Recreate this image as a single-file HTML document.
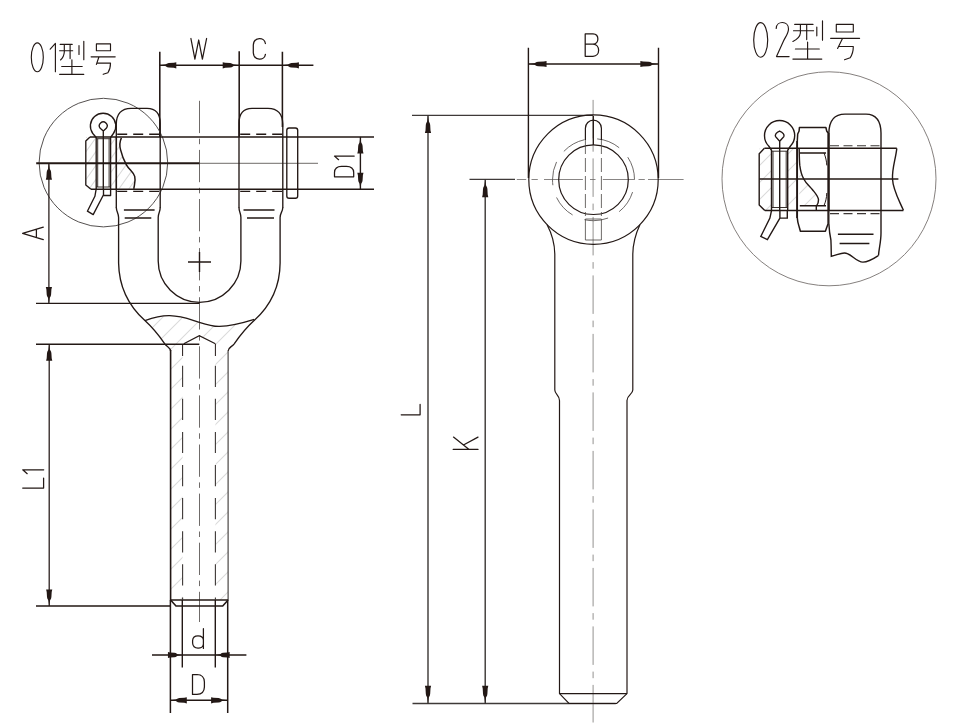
<!DOCTYPE html>
<html><head><meta charset="utf-8"><title>drawing</title>
<style>
html,body{margin:0;padding:0;background:#fff;font-family:"Liberation Sans",sans-serif}
svg{display:block;position:absolute;left:0;top:0}
.k{stroke:#231815;fill:none;stroke-width:1.35;stroke-linecap:butt;stroke-linejoin:round}
.m{stroke:#231815;fill:none;stroke-width:1.4}
.n{stroke:#231815;fill:none;stroke-width:1.2}
.t{stroke:#231815;fill:none;stroke-width:1.15;stroke-linecap:round;stroke-linejoin:round}
.d{stroke:#231815;fill:none;stroke-width:1.25;stroke-linecap:round;stroke-linejoin:round}
.c{stroke:#4a4543;fill:none;stroke-width:0.8}
.g{stroke:#555150;fill:none;stroke-width:1}
.K{stroke:#231815;fill:none;stroke-width:1.55}
.h{stroke:#dadada;fill:none;stroke-width:1.05}
.a{fill:#231815;stroke:none}
</style></head>
<body>
<svg width="953" height="724" viewBox="0 0 953 724">
<defs>
<path id="ar" d="M0,0 L5.5,-0.8 L7.5,-1.9 L9,-2.2 L14,-2.5 L16.5,-3.1 L16.5,3.1 L14,2.5 L9,2.2 L7.5,1.9 L5.5,0.8 Z"/>
<clipPath id="cpL"><path clip-rule="evenodd" d="M144.9,320.6 C155,317 162,315.5 169.8,315.7 C182,316 190,319.5 199.3,322.3 C207,324.8 213,326.6 219.5,326.4 C232,326 244,322.5 254.3,319.3 C246,328 239,337 234.2,343.8 L228.1,351 V600 H170.6 V351 L164.8,343.8 C160,337 153,328 144.9,320.6 Z M182.6,600 V343.8 L199.3,335.6 L215.4,343.8 V600 Z"/></clipPath>
<clipPath id="cpL1"><path d="M86,137 H96.2 V189 H86 Z M110.6,137 H121.4 C119.5,142 119.5,146 120.6,149.9 C122,156 124,160.5 126.4,164.8 C129,169.5 133.5,172 134.7,176.4 C136,181 134.2,185 133.8,188.8 H110.6 Z"/></clipPath>
<clipPath id="cpR1"><path d="M759.2,148.4 H771.5 V210.3 H759.2 Z M787.3,148.4 H798 V210.3 H787.3 Z M799.2,153 C799.3,158 799.3,160 799.8,165.4 C800.5,171 801.5,175 803.6,178.7 C806,183.5 810,186.5 812.5,189.7 C815.5,193.5 818,196 818.5,199.7 C818.8,202.5 817.5,204.5 816.3,205.5 H799.2 Z"/></clipPath>
</defs>
<rect width="953" height="724" fill="#fff"/>

<!-- ============ LEFT VIEW ============ -->
<g id="left">
<!-- hatching -->
<g class="h" id="hatchL"><path clip-path="url(#cpL)" d="M140.0,320.0 L260.0,200.0 M140.0,340.0 L260.0,220.0 M140.0,360.0 L260.0,240.0 M140.0,380.0 L260.0,260.0 M140.0,400.0 L260.0,280.0 M140.0,420.0 L260.0,300.0 M140.0,440.0 L260.0,320.0 M140.0,460.0 L260.0,340.0 M140.0,480.0 L260.0,360.0 M140.0,500.0 L260.0,380.0 M140.0,520.0 L260.0,400.0 M140.0,540.0 L260.0,420.0 M140.0,560.0 L260.0,440.0 M140.0,580.0 L260.0,460.0 M140.0,600.0 L260.0,480.0 M140.0,620.0 L260.0,500.0 M140.0,640.0 L260.0,520.0 M140.0,660.0 L260.0,540.0 M140.0,680.0 L260.0,560.0 M140.0,700.0 L260.0,580.0 M140.0,720.0 L260.0,600.0"/>
<path clip-path="url(#cpL1)" d="M84.0,140.5 L137.0,66.3 M84.0,154.4 L137.0,80.2 M84.0,168.3 L137.0,94.1 M84.0,182.2 L137.0,108.0 M84.0,196.1 L137.0,121.9 M84.0,210.0 L137.0,135.8 M84.0,223.9 L137.0,149.7 M84.0,237.8 L137.0,163.6 M84.0,251.7 L137.0,177.5"/></g>

<!-- title 01 -->
<g class="t">
<ellipse cx="37.3" cy="57.3" rx="6" ry="14.4"/>
<path d="M50.2,49.2 L55.4,43.4 V71.7"/>
<path d="M60.2,44.4 H72.2 M59.6,50.7 H72.7 M64.3,44.4 V52 Q64,57 60.5,60 M70.1,44.4 V58.6 M79,45.5 V54.4 M83.8,41.3 V59.7 M61.7,66.5 H82.2 M71.9,59.7 V74.3 M59.6,74.3 H83.8"/>
<path d="M96.4,43.9 H110.5 V50.7 H96.4 Z M91.1,56.8 H115.2 M99,56.8 L96.4,64.4 M97.4,63.1 H110.5 Q110.5,69 107.9,72.8 L103.2,74.3"/>
</g>

<!-- W / C dims -->
<path class="K" d="M159.8,51.7 V137 M239.2,51.2 V137 M282.4,51.7 V127"/>
<path class="m" d="M159.8,65.3 H313.4"/>
<use href="#ar" class="a" transform="translate(159.8,65.3)"/>
<use href="#ar" class="a" transform="translate(239.2,65.3) scale(-1,1)"/>
<use href="#ar" class="a" transform="translate(282.4,65.3)"/>
<path class="d" d="M190.9,38.5 L194.9,59.2 L198.7,40 L202.4,59.2 L206.6,38.5"/>
<path class="d" d="M265.4,43.5 C264.5,36.8 254,36.6 253.3,45 V52.7 C254,61 264.5,61 265.4,54.3"/>

<!-- detail circle 01 -->
<circle class="g" cx="103.4" cy="162.6" r="64.3"/>

<!-- centerlines -->
<path class="c" d="M199.5,100.8 V622" stroke-dasharray="32.3 5.6 5.5 5.7"/>
<path class="c" d="M199.4,163.3 H318"/>
<path class="k" d="M36.2,163.3 H199.4" style="stroke-width:1.9"/>

<!-- pin -->
<path class="K" d="M90,136.9 H374 M91,189.3 H374"/>
<path class="k" d="M90,136.9 L85.8,141 V185 L91,189.3"/>
<rect class="k" x="286.8" y="128" width="10.9" height="70.2" rx="2.3"/>
<!-- hidden lines -->
<path class="n" style="stroke-width:1.4" d="M117.2,134.3 H160.2 M240.2,134.3 H283 M117.2,191.4 H160.2 M240.2,191.4 H283" stroke-dasharray="10 6"/>

<!-- ears -->
<path class="k" d="M116.3,208 V124 Q116.5,108.5 131,108.3 H147 Q160,108.5 160.2,123 V208"/>
<path class="k" d="M239,208 V123 Q239.2,108.5 252,108.3 H268 Q282.5,108.5 282.8,124 V208"/>
<!-- body -->
<path class="k" d="M116.3,207.5 C116.5,212 118.6,213 118.6,217.5 V263 C119,290 131,308 144.9,320.6 C153,328 160,337 164.8,343.8 C167,347 170.6,347.5 170.6,351"/>
<path class="k" style="stroke-width:1.6" d="M170.6,350 V600 L176,606 H222.7 L228.1,600"/>
<path class="k" style="stroke-width:1.1;stroke:#3a3533" d="M228.1,600 V351"/>
<path class="k" d="M228.1,351 C228.1,347.5 231.7,347 234.2,343.8 C239,337 246,328 254.1,320.6 C268,308 280,290 280.1,263 V217.5 C280.1,213 282.6,212 282.8,207.5"/>
<path class="k" d="M160.2,207.5 C160.2,212 158.2,213 158.2,217.5 V261 A41.35,41.35 0 0 0 240.9,261 V217.5 C240.9,213 239,212 239,207.5"/>
<path class="k" style="stroke-width:1.7" d="M170.6,600 H228.1"/>
<!-- double lines -->
<path class="k" d="M123.9,210 H154.6 M124.7,218 H151.3 M243.5,210 H274.5 M247,218 H274"/>
<!-- plus mark -->
<path class="m" d="M188,262 H211 M199.5,252 V272"/>
<!-- break wave -->
<path class="k" d="M144.9,320.6 C155,317 162,315.5 169.8,315.7 C182,316 190,319.5 199.3,322.3 C207,324.8 213,326.6 219.5,326.4 C232,326 244,322.5 254.3,319.3"/>
<!-- bore -->
<path class="n" d="M183.8,343.8 L199.3,335.6 L215.4,343.8"/>
<path class="n" style="stroke-width:1" d="M182.6,344 V356 M215.4,344 V356"/>
<path class="n" style="stroke-width:1.1;stroke:#3d3836" d="M182.6,365.7 V600 M215.4,365.7 V600" stroke-dasharray="21.2 11.9"/>

<!-- cotter pin 01 -->
<path class="k" d="M96.2,189 V137.5 L92.8,133.5 A12.75,12.75 0 1 1 113.4,133.5 L110.6,137.5 V189"/>
<path class="k" d="M103.3,189 V131 L100.2,128.3 A3.9,3.9 0 1 1 106.3,128.3 L103.3,131"/>
<path class="k" d="M96.2,188.8 L94.9,196.3 L87.4,211.2 L93.2,214.6 L103.5,194.7 M103.5,188.8 V195.5 H110.6 V188.8"/>
<path class="k" d="M116.4,137 V190"/>
<path class="n" style="stroke-width:0.9" d="M97.7,138.7 V187 M109.1,138.7 V187 M96.2,138.7 H110.6 M96.2,187 H110.6"/>
<path class="k" style="stroke-width:1.5" d="M121.4,137.9 C119.5,142 119.5,146 120.6,149.9 C122,156 124,160.5 126.4,164.8 C129,169.5 133.5,172 134.7,176.4 C136,181 134.2,185 133.8,188.8"/>

<!-- A dim -->
<path class="m" style="stroke-width:1.25" d="M48.9,163.3 V303.4"/>
<use href="#ar" class="a" transform="translate(48.9,163.3) rotate(90)"/>
<use href="#ar" class="a" transform="translate(48.9,303.4) rotate(-90)"/>
<path class="K" style="stroke-width:1.4" d="M36,303.4 H199.5"/>
<path class="d" d="M43.3,227.2 L22.6,233.4 L43.3,239.6 M36.4,229.5 V237.5"/>
<!-- L1 dim -->
<path class="K" style="stroke-width:1.4" d="M36,344.3 H199.3 M36,606 H171"/>
<path class="m" style="stroke-width:1.25" d="M49.2,344.3 V606"/>
<use href="#ar" class="a" transform="translate(49.2,344.3) rotate(90)"/>
<use href="#ar" class="a" transform="translate(49.2,606) rotate(-90)"/>
<path class="d" d="M27.2,473.7 L22.7,469.8 H43.7 M22.7,488.1 H43.6 V478.1"/>

<!-- D1 dim -->
<path class="m" d="M360.4,136.9 V189.3"/>
<use href="#ar" class="a" transform="translate(360.4,136.9) rotate(90)"/>
<use href="#ar" class="a" transform="translate(360.4,189.3) rotate(-90)"/>
<path class="d" d="M338.6,159.7 L334.5,156.1 H354.2 M334.5,176.8 H353.7 V172.5 C353.5,168 350,166.4 346.5,166.4 H341.5 C338,166.4 334.7,168 334.5,172.5 Z"/>

<!-- d / D dims -->
<path class="K" d="M170.4,600 V713 M227.7,600 V713" style="stroke-width:1.5"/>
<path class="m" d="M182.3,600 V667.5 M215.3,600 V667.5"/>
<path class="m" d="M152,655 H246.4 M170.3,700.3 H227.6"/>
<use href="#ar" class="a" transform="translate(182.3,655) scale(-0.87,1)"/>
<use href="#ar" class="a" transform="translate(215.3,655) scale(0.87,1)"/>
<use href="#ar" class="a" transform="translate(170.3,700.3)"/>
<use href="#ar" class="a" transform="translate(227.6,700.3) scale(-1,1)"/>
<path class="d" d="M203.4,628.7 V648.4 M203.4,640 C203,634.5 193,634 192.6,640.5 V643 C193,649.8 203,649.5 203.4,644"/>
<path class="d" d="M192.5,674.5 V694.4 H197 C202,694.3 204.3,691 204.4,687 V682 C204.3,678 202,674.7 197,674.5 Z"/>
</g>

<!-- ============ MIDDLE VIEW ============ -->
<g id="mid">
<!-- L / K dims -->
<path class="m" style="stroke:#3f3a38;stroke-width:1.3" d="M412,115.3 H593 M412.5,703.5 H615.8 M469.5,179.4 H515"/>
<path class="m" style="stroke:#332e2c;stroke-width:1.35" d="M428,115.3 V703.5 M485.2,179.4 V703.5"/>
<use href="#ar" class="a" transform="translate(428,115.3) rotate(90) scale(1.08,1)"/>
<use href="#ar" class="a" transform="translate(428,703.5) rotate(-90) scale(1.08,1)"/>
<use href="#ar" class="a" transform="translate(485.2,179.4) rotate(90) scale(1.08,1)"/>
<use href="#ar" class="a" transform="translate(485.2,703.5) rotate(-90) scale(1.08,1)"/>
<path class="d" d="M401.2,414.8 H420.1 V404.4"/>
<path class="d" d="M453.2,449.4 H478 M478,437.1 L463.9,444.8 M453.5,437.1 L469.1,449.4"/>
<!-- B dim -->
<path class="m" d="M528.4,47.8 V178 M658.5,47.8 V178"/>
<path class="m" d="M528.4,64 H658.5"/>
<use href="#ar" class="a" transform="translate(528.4,64) scale(1.1,1)"/>
<use href="#ar" class="a" transform="translate(658.5,64) scale(-1.1,1)"/>
<path class="d" d="M585.2,33.9 V56.3 H593 C600.5,56 600.5,44.5 593,44.2 H585.2 M593,44.2 C599.5,44 599.5,34.2 593,33.9 H585.2"/>
<!-- centerlines -->
<path class="c" style="stroke:#5a5654;stroke-width:0.65" d="M593.1,99.9 V722.5" stroke-dasharray="38.5 6.7 6.6 6.7"/>
<path class="c" style="stroke:#6a6664" d="M516.8,179.5 H526.2 M531.5,179.5 H537.8 M544,179.5 H582.9 M590,179.5 H595.5 M602.8,179.5 H634.3 M638.5,179.5 H644.8 M648,179.5 H683.6"/>
<!-- eye -->
<circle class="n" cx="593.5" cy="179.6" r="64.7"/>
<circle class="n" cx="593.5" cy="179.7" r="34.8"/>
<circle class="c" cx="593.5" cy="179.7" r="41" stroke-dasharray="24 12.8" stroke-dashoffset="24.2"/>
<!-- slot -->
<path class="n" d="M585.4,140 V128.2 A8,8 0 0 1 601.4,128.2 V140"/>
<path class="c" d="M585.4,140 V216 M601.4,140 V216" stroke-dasharray="14 4"/>
<path class="c" d="M585.4,219 V240 M601.4,219 V240"/>
<path class="k" d="M593.3,116 V145"/>
<path class="c" d="M585.4,219 H601.4 M585.4,240 H601.4"/>
<!-- shaft -->
<path class="n" d="M547.1,224.7 C551.5,233 554.6,242 554.8,254 V390 C554.9,394.5 559.4,395 559.5,400.5 V693.6 L569,703.5 H616.7 L627,693.6 V400.5 C627.1,395 632.7,394.5 632.8,390 V254 C633,242 636,233 639.9,224.7"/>
<path class="n" d="M559.5,693.6 H627"/>
</g>

<!-- ============ RIGHT DETAIL 02 ============ -->
<g id="right">
<g class="h" id="hatchR"><path clip-path="url(#cpR1)" style="stroke:#dadada" d="M756.0,152.0 L820.0,88.0 M756.0,169.0 L820.0,105.0 M756.0,186.0 L820.0,122.0 M756.0,203.0 L820.0,139.0 M756.0,220.0 L820.0,156.0 M756.0,237.0 L820.0,173.0 M756.0,254.0 L820.0,190.0 M756.0,271.0 L820.0,207.0"/></g>
<!-- title 02 -->
<g class="t">
<ellipse cx="760.7" cy="39.9" rx="7" ry="17.3"/>
<path d="M776.2,28.5 C776.5,20.5 788.5,20.5 788.5,28.9 C788.5,33 786,36 783.5,41 L776.5,56.6 H789.1"/>
<path d="M794.7,24.4 H813 M793.5,30.7 H813.6 M800.4,24.4 V33 Q800,38 792.9,41.4 M806.7,24.4 V39.6 M816.8,27 V35.8 M822.5,20.7 V40.2 M795.4,49 H819.3 M807.6,42.1 V59.1 M792.9,59.1 H821.8"/>
<path d="M836.3,24.4 H853.3 V32 H836.3 Z M830.6,38.3 H859.6 M842.6,38.3 L837.6,48.4 M838.8,46.5 H853.3 Q853.3,53 850.2,57.8 L844.5,59.7"/>
</g>
<circle class="g" style="stroke:#77726f;stroke-width:0.9" cx="829" cy="178.8" r="107"/>
<!-- pin lines -->
<path class="m" d="M764.4,148.3 H896.8 M759.2,179 H898.4 M764.8,210.5 H903.4"/>
<path class="m" d="M764.4,148.3 L759.2,153.8 V205 L764.8,210.5"/>
<path class="m" d="M896.8,148.4 C895.5,160 892,168 892.5,179 C893,190 899,200 903.4,210.3"/>
<!-- ear -->
<path class="m" d="M828.9,210 V133 Q829.2,114.1 845,114.1 H866 Q880.8,114.3 881,133 V233 C881,242 879,248 878.5,255.5"/>
<path class="m" d="M828.9,224 C829.2,230 829.8,235 830.9,240 C831.2,246 831.2,250 831.3,256.3 C836,255.5 840,253 844.5,253 C851,253 856,262 862.8,262.1 C869,262.2 874,258.5 878.5,255.5"/>
<path class="m" style="stroke-width:1.05;stroke:#3d3836" d="M830,145.8 H881 M830,213.6 H881" stroke-dasharray="9 4.5"/>
<path class="m" d="M837.9,234.2 H873.5 M839.6,243.5 H869.4"/>
<!-- nut -->
<path class="k" style="stroke-width:1.5" d="M797.3,141 V218 C797.5,222 798.6,225 799.2,227 L800.4,231.2 H825.4 L826.7,227.6 L828.1,223.8 V133 L826.7,131 L825.9,127.5 H799.4 L799.1,131 L797.7,134 Z"/>
<path class="k" style="stroke-width:1" d="M796.7,141 V218"/>
<path class="m" d="M799.8,153 H826 M799.8,205.7 H826"/>
<path class="m" d="M799.2,148.8 C799.3,155 799.3,160 799.8,165.4 C800.5,171 801.5,175 803.6,178.7 C806,183.5 810,186.5 812.5,189.7 C815.5,193.5 818,196 818.5,199.7 C818.8,202.5 817.5,204.5 816.3,206.3 V210"/>
<path class="n" style="stroke-width:1" d="M824,152.8 C825.6,157 826.6,161 826.8,165.4 M826.8,193 C826.6,198 825.6,202 824,205.5"/>
<path class="k" style="stroke-width:1.2" d="M828.9,133 V224"/>
<!-- cotter 02 -->
<path class="m" d="M771.5,210.5 V150.3 L768.9,146.3 A15.1,15.1 0 1 1 790.3,146.3 L787.7,150.3 V210.5"/>
<path class="m" d="M779.7,210.5 V141.2 L775.6,136.6 C774.5,134.5 776.5,132.5 779.6,131.1 C782.8,132.5 784.8,134.5 783.8,136.6 L779.7,141.2"/>
<path class="n" style="stroke-width:0.9" d="M771.5,151.2 H787.7 M771.5,207.5 H787.7 M773,151.2 V207.5 M786.2,151.2 V207.5"/>
<path class="m" d="M771.5,210.7 L769.9,218.1 L760.8,236.4 L767.4,239.7 L779.9,218.1 M779.9,210.3 V218.1 H787.3 V210.3"/>
</g>
</svg>
</body></html>
